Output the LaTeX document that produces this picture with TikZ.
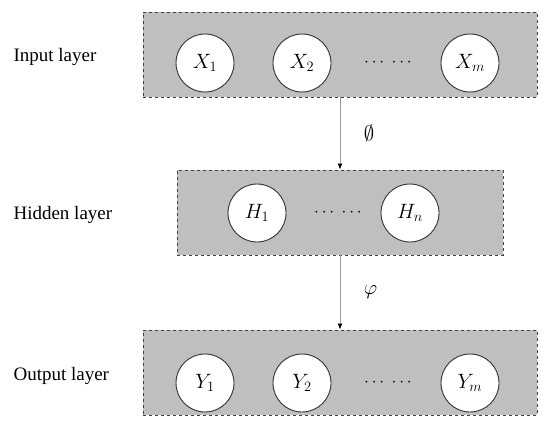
\documentclass[tikz,border=0pt]{standalone}
\usepackage{fontspec}
\setmainfont{Liberation Serif}
\usetikzlibrary{arrows.meta,positioning}

\begin{document}
\begin{tikzpicture}[x=1pt, y=-1pt,
    layer/.style={draw=black!75, dashed, line width=0.8pt, fill=black!25, inner sep=0pt},
    unit/.style={circle, draw=black!80, line width=0.9pt, fill=white, minimum size=58pt, inner sep=0pt, font=\fontsize{21}{24}\selectfont},
    lab/.style={anchor=west, font=\fontsize{19}{22}\selectfont},
    dots/.style={font=\fontsize{18}{20}\selectfont},
    arr/.style={-{Latex[length=6pt,width=5pt,black]}, draw=black!40, line width=0.9pt}
]
\useasboundingbox (0,0) rectangle (550,428);
% layer boxes
\node[layer, minimum width=394pt, minimum height=85pt] (inbox) at (340,54.5) {};
\node[layer, minimum width=326pt, minimum height=85pt] (hidbox) at (340,212.5) {};
\node[layer, minimum width=394pt, minimum height=85pt] (outbox) at (340,372.5) {};
% layer names
\node[lab] (inlab) at (10,57) {Input layer};
\node[lab] (hidlab) at (10,215) {Hidden layer};
\node[lab] (outlab) at (10,376) {Output layer};
% input units
\node[unit] (x1) at (205,63) {$X_1$};
\node[unit] (x2) at (302,63) {$X_2$};
\node[dots] (xd) at (388,63) {$\cdots\ \cdots$};
\node[unit] (xm) at (470,63) {$X_m$};
% hidden units
\node[unit] (h1) at (257,213) {$H_1$};
\node[dots] (hd) at (338,213) {$\cdots\ \cdots$};
\node[unit] (hn) at (410,213) {$H_n$};
% output units
\node[unit] (y1) at (205,383) {$Y_1$};
\node[unit] (y2) at (302,383) {$Y_2$};
\node[dots] (yd) at (388,383) {$\cdots\ \cdots$};
\node[unit] (ym) at (470,383) {$Y_m$};
% connections
\draw[arr] (inbox.south) -- node[right=20pt, font=\fontsize{20}{22}\selectfont, text=black]{$\emptyset$} (hidbox.north);
\draw[arr] (hidbox.south) -- node[right=20pt, font=\fontsize{20}{22}\selectfont, text=black]{$\varphi$} (outbox.north);
\end{tikzpicture}
\end{document}
